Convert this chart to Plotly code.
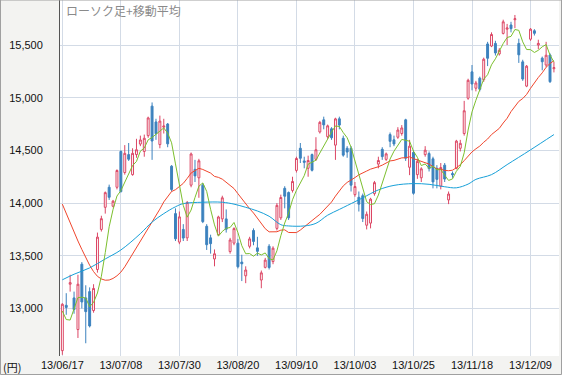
import plotly.graph_objects as go

# ---- data ----
dates = ["13/06/17", "13/07/08", "13/07/30", "13/08/20", "13/09/10",
         "13/10/03", "13/10/25", "13/11/18", "13/12/09"]
date_pos = [0, 15, 30, 45, 60, 75, 90, 105, 120]

opens = [12600, 13030, 13230, 13100, 12800, 13420, 13100, 13160, 12980, 13370,
         13750, 13960, 14150, 13970, 14150, 14490, 14290, 14460, 14270, 14460,
         14560, 14490, 14640, 14920, 14770, 14555, 14720, 14750, 14350, 13900,
         13630, 13750, 13670, 14170, 14320, 14240, 14170, 13780, 13670, 13470,
         13700, 13850, 13850, 13540, 13620, 13620, 13440, 13310, 13590, 13740,
         13575, 13270, 13390, 13590, 13445, 13760, 13860, 14140, 14100, 14120,
         14310, 14520, 14400, 14330, 14460, 14415, 14675, 14790, 14630, 14705,
         14550, 14800, 14615, 14520, 14520, 14080, 14055, 14070, 13790, 13810,
         14090, 14370, 14510, 14415, 14650, 14600, 14625, 14660, 14790, 14340,
         14480, 14270, 14240, 14460, 14470, 14420, 14330, 14160, 14360, 14030,
         14280, 14330, 14520, 14660, 14995, 15245, 15090, 15185, 15170, 15510,
         15490, 15515, 15415, 15610, 15650, 15690, 15740, 15515, 15340, 15110,
         15555, 15635, 15500, 15375, 15310, 15405, 15275]
highs = [13050, 13145, 13320, 13160, 13320, 13440, 13220, 13200, 13230, 13720,
         13880, 14110, 14175, 14030, 14320, 14500, 14550, 14570, 14520, 14610,
         14640, 14650, 14820, 14955, 14800, 14830, 14800, 14760, 14360, 13950,
         13920, 13800, 14020, 14480, 14410, 14420, 14190, 13800, 13700, 13560,
         13880, 14070, 13940, 13670, 13770, 13660, 13510, 13400, 13680, 13760,
         13680, 13360, 13480, 13610, 13590, 14000, 14080, 14160, 14110, 14250,
         14440, 14570, 14440, 14450, 14470, 14625, 14780, 14820, 14745, 14720,
         14810, 14820, 14640, 14540, 14540, 14200, 14110, 14090, 13920, 14050,
         14210, 14440, 14530, 14480, 14670, 14640, 14720, 14740, 14800, 14600,
         14500, 14420, 14340, 14540, 14490, 14440, 14360, 14380, 14380, 14110,
         14300, 14600, 14600, 14970, 15180, 15310, 15160, 15200, 15380, 15530,
         15620, 15540, 15470, 15740, 15700, 15720, 15785, 15560, 15360, 15310,
         15660, 15650, 15550, 15390, 15530, 15420, 15340]
lows = [12560, 12940, 13160, 12950, 12720, 13000, 12670, 12820, 12960, 13340,
        13730, 13900, 14030, 13960, 14130, 14100, 14270, 14400, 14260, 14430,
        14540, 14440, 14620, 14410, 14600, 14520, 14660, 14530, 14110, 13640,
        13610, 13640, 13640, 14150, 14200, 14050, 13810, 13555, 13520, 13400,
        13690, 13820, 13720, 13520, 13600, 13380, 13260, 13240, 13570, 13600,
        13500, 13192, 13380, 13370, 13420, 13740, 13840, 13950, 13840, 14100,
        14290, 14380, 14330, 14250, 14300, 14400, 14660, 14700, 14610, 14600,
        14410, 14700, 14440, 14430, 14110, 14060, 13920, 13820, 13750, 13760,
        14070, 14330, 14410, 14400, 14530, 14540, 14610, 14640, 14400, 14265,
        14080, 14230, 14200, 14440, 14300, 14140, 14140, 14130, 14200, 13990,
        14240, 14320, 14490, 14640, 14980, 15070, 15060, 15060, 15150, 15300,
        15480, 15400, 15400, 15600, 15500, 15620, 15660, 15330, 15160, 15100,
        15540, 15590, 15460, 15260, 15290, 15140, 15240]
closes = [13040, 13010, 13245, 12990, 13230, 13062, 12970, 12834, 13190, 13677,
          13852, 14099, 14055, 14018, 14309, 14109, 14472, 14416, 14472, 14506,
          14599, 14615, 14808, 14589, 14658, 14778, 14731, 14562, 14129, 13661,
          13869, 13668, 14005, 14466, 14258, 14401, 13824, 13605, 13615, 13519,
          13868, 14050, 13752, 13650, 13758, 13396, 13424, 13365, 13660, 13636,
          13542, 13338, 13459, 13389, 13572, 13978, 14053, 14065, 13860, 14205,
          14423, 14425, 14387, 14404, 14311, 14506, 14766, 14742, 14733, 14620,
          14799, 14740, 14455, 14484, 14170, 14157, 13990, 13853, 13894, 14037,
          14194, 14404, 14441, 14467, 14586, 14561, 14693, 14713, 14426, 14540,
          14093, 14396, 14325, 14502, 14327, 14201, 14225, 14337, 14228, 14086,
          14269, 14588, 14567, 14876, 15165, 15130, 15140, 15080, 15365, 15374,
          15600, 15425, 15450, 15720, 15662, 15655, 15749, 15407, 15177, 15299,
          15650, 15611, 15515, 15341, 15403, 15152, 15285]

ma5 = [12975, 12895, 12890, 12995, 13103, 13107, 13099, 13017, 13057, 13147,
       13305, 13530, 13775, 13940, 14067, 14118, 14193, 14265, 14356, 14395,
       14493, 14522, 14600, 14623, 14654, 14690, 14713, 14664, 14572, 14372,
       14190, 13978, 13866, 13934, 14053, 14160, 14191, 14111, 13941, 13793,
       13686, 13731, 13761, 13768, 13816, 13721, 13596, 13519, 13521, 13496,
       13525, 13508, 13527, 13473, 13460, 13547, 13690, 13811, 13906, 14032,
       14121, 14196, 14260, 14369, 14390, 14407, 14475, 14546, 14612, 14673,
       14732, 14727, 14669, 14620, 14530, 14401, 14251, 14131, 14013, 13986,
       13994, 14076, 14194, 14309, 14418, 14492, 14550, 14604, 14596, 14587,
       14493, 14434, 14356, 14371, 14329, 14350, 14316, 14318, 14264, 14215,
       14229, 14302, 14348, 14477, 14693, 14865, 14976, 15078, 15176, 15218,
       15312, 15369, 15443, 15514, 15571, 15582, 15647, 15639, 15530, 15457,
       15456, 15429, 15450, 15483, 15504, 15404, 15339]

ma25 = [13990, 13900, 13810, 13720, 13640, 13560, 13480, 13410, 13350, 13305,
        13280, 13268, 13270, 13285, 13310, 13345, 13395, 13455, 13520, 13585,
        13645, 13705, 13760, 13815, 13873, 13943, 14011, 14064, 14110, 14127,
        14159, 14187, 14234, 14285, 14308, 14330, 14319, 14301, 14285, 14253,
        14244, 14227, 14200, 14167, 14138, 14089, 14042, 13984, 13947, 13906,
        13857, 13801, 13757, 13727, 13724, 13728, 13743, 13746, 13721, 13719,
        13720, 13744, 13776, 13807, 13839, 13864, 13893, 13933, 13976, 14010,
        14066, 14119, 14163, 14196, 14217, 14242, 14268, 14283, 14304, 14322,
        14331, 14345, 14360, 14384, 14400, 14405, 14416, 14429, 14430, 14439,
        14422, 14408, 14391, 14382, 14370, 14346, 14325, 14321, 14310, 14307,
        14312, 14335, 14364, 14403, 14448, 14486, 14515, 14541, 14577, 14608,
        14650, 14679, 14709, 14760, 14805, 14868, 14922, 14965, 14992, 15031,
        15089, 15144, 15192, 15236, 15289, 15324, 15352]

ma75_pos = [0, 3, 7, 11, 15, 20, 23, 26, 29, 31, 36, 41, 44, 47, 50, 53, 56, 58,
            62, 65, 68, 71, 75, 77, 81, 85, 90, 94, 98, 101, 104, 106, 110, 114,
            120, 126]
ma75 = [13272, 13325, 13385, 13470, 13555, 13710, 13820, 13900, 13965, 13995,
        14008, 14008, 13990, 13960, 13925, 13875, 13795, 13783, 13783, 13808,
        13885, 13940, 14013, 14050, 14125, 14168, 14185, 14178, 14155, 14145,
        14180, 14225, 14270, 14365, 14505, 14650]

y_ticks = [13000, 13500, 14000, 14500, 15000, 15500]

# ---- styles ----
RED = "#dc4664"
BLUE = "#3c82be"
GRID = "#d3dbe6"
x = list(range(len(closes)))

fig = go.Figure()
fig.add_trace(go.Candlestick(
    x=x, open=opens, high=highs, low=lows, close=closes,
    increasing=dict(line=dict(color=RED, width=1), fillcolor="#ffffff"),
    decreasing=dict(line=dict(color=BLUE, width=1), fillcolor=BLUE),
    whiskerwidth=0, hoverinfo="skip", showlegend=False))
fig.add_trace(go.Scatter(x=x, y=ma25, mode="lines",
                         line=dict(color="#f0462d", width=1), showlegend=False))
fig.add_trace(go.Scatter(x=ma75_pos, y=ma75, mode="lines",
                         line=dict(color="#17a0d8", width=1, shape="spline"),
                         showlegend=False))
fig.add_trace(go.Scatter(x=x, y=ma5, mode="lines",
                         line=dict(color="#7cbf2e", width=1), showlegend=False))

W, H = 562, 375
ML, MR, MT, MB = 60, 3, 0, 19
pw, ph = W - ML - MR, H - MT - MB

fig.update_layout(
    width=W, height=H,
    margin=dict(l=ML, r=MR, t=MT, b=MB, pad=0),
    paper_bgcolor="#f3f3f1", plot_bgcolor="#ffffff",
    font=dict(family="Liberation Sans, Arial, sans-serif", size=11, color="#111111"),
    xaxis=dict(range=[-0.6, 127.3], tickvals=date_pos, ticktext=dates,
               showgrid=True, gridcolor=GRID, gridwidth=1, zeroline=False,
               showline=False, ticks="", rangeslider=dict(visible=False),
               tickfont=dict(size=11, color="#111111"), ticklabelstandoff=1),
    yaxis=dict(range=[12549, 15927], tickvals=y_ticks, tickformat=",d",
               showgrid=True, gridcolor=GRID, gridwidth=1, zeroline=False,
               showline=True, linecolor="#555555", linewidth=1, mirror=False,
               ticks="", ticklabelstandoff=14,
               tickfont=dict(size=11, color="#111111")),
    annotations=[
        dict(text="ローソク足+移動平均", xref="paper", yref="paper",
             x=4 / pw, y=1.0, xanchor="left", yanchor="top", showarrow=False,
             font=dict(family="Noto Sans CJK JP", size=12, color="#8a8a8a")),
        dict(text="(円)", xref="paper", yref="paper",
             x=-(ML - 1) / pw, y=-(10.5) / ph, xanchor="left", yanchor="middle",
             showarrow=False,
             font=dict(family="Noto Sans CJK JP", size=11, color="#111111")),
    ],
    shapes=[
        dict(type="rect", xref="paper", yref="paper",
             x0=-(ML - 0.5) / pw, x1=1 + (MR - 0.5) / pw,
             y0=-(MB - 0.5) / ph, y1=1,
             line=dict(color="#a0a0a0", width=1), fillcolor="rgba(0,0,0,0)",
             layer="above"),
    ],
)

fig.write_html("out.html",
               config={"displayModeBar": False},
               post_script="document.body.style.margin='0';"
                           "document.body.style.overflow='hidden';")
